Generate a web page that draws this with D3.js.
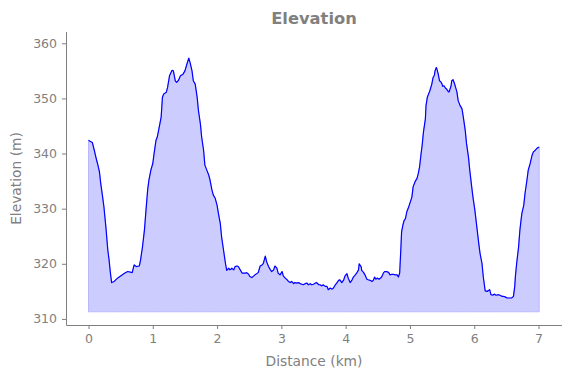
<!DOCTYPE html>
<html>
<head>
<meta charset="utf-8">
<script src="https://cdn.jsdelivr.net/npm/d3@7"></script>
<style>
  body { margin: 0; background: #fff; }
  text { font-family: "DejaVu Sans", sans-serif; }
</style>
</head>
<body>
<div id="chart"></div>
<script>
var svgWidth = 571;
var svgHeight = 378;

var margin = { top: 32, right: 9, bottom: 53, left: 66 };
var width = svgWidth - margin.left - margin.right;
var height = svgHeight - margin.top - margin.bottom;

// distance along the track (km)
var distance = [
  0.00, 0.03, 0.06, 0.09, 0.12, 0.14, 0.17, 0.19, 0.22, 0.24, 0.27, 0.30, 0.32, 0.34, 0.36,
  0.40, 0.45, 0.50, 0.56, 0.61, 0.68, 0.71, 0.74, 0.79, 0.81, 0.84, 0.87, 0.89, 0.92, 0.94,
  0.97, 1.00, 1.02, 1.05, 1.07, 1.10, 1.13, 1.15, 1.17, 1.21, 1.23, 1.26, 1.30, 1.32, 1.35,
  1.37, 1.40, 1.43, 1.47, 1.50, 1.53, 1.56, 1.58, 1.61, 1.63, 1.66, 1.69, 1.71, 1.74, 1.76,
  1.79, 1.81, 1.84, 1.87, 1.89, 1.92, 1.94, 1.97, 2.00, 2.02, 2.05, 2.07, 2.10, 2.13, 2.15,
  2.18, 2.20, 2.23, 2.26, 2.28, 2.31, 2.33, 2.36, 2.39, 2.44, 2.46, 2.49, 2.51, 2.54, 2.59,
  2.64, 2.67, 2.70, 2.72, 2.75, 2.77, 2.80, 2.83, 2.85, 2.88, 2.90, 2.93, 2.95, 2.98, 3.01,
  3.03, 3.06, 3.09, 3.11, 3.14, 3.16, 3.19, 3.21, 3.24, 3.27, 3.29, 3.32, 3.34, 3.37, 3.40,
  3.42, 3.45, 3.47, 3.50, 3.53, 3.55, 3.58, 3.60, 3.63, 3.65, 3.68, 3.71, 3.73, 3.76, 3.79,
  3.81, 3.84, 3.86, 3.89, 3.91, 3.94, 3.97, 3.99, 4.02, 4.04, 4.07, 4.10, 4.12, 4.15, 4.17,
  4.20, 4.21, 4.24, 4.25, 4.28, 4.30, 4.33, 4.35, 4.38, 4.41, 4.43, 4.45, 4.47, 4.49, 4.52,
  4.56, 4.59, 4.61, 4.64, 4.67, 4.69, 4.72, 4.74, 4.77, 4.80, 4.82, 4.84, 4.85, 4.86, 4.87,
  4.89, 4.91, 4.93, 4.95, 4.98, 5.00, 5.03, 5.05, 5.08, 5.11, 5.13, 5.15, 5.17, 5.19, 5.21,
  5.24, 5.25, 5.27, 5.30, 5.31, 5.32, 5.34, 5.36, 5.38, 5.39, 5.41, 5.42, 5.44, 5.46, 5.48,
  5.50, 5.51, 5.53, 5.55, 5.57, 5.60, 5.61, 5.64, 5.65, 5.67, 5.69, 5.71, 5.73, 5.75, 5.78,
  5.81, 5.83, 5.86, 5.88, 5.91, 5.93, 5.96, 5.98, 6.01, 6.04, 6.07, 6.09, 6.12, 6.14, 6.17,
  6.20, 6.24, 6.26, 6.29, 6.31, 6.34, 6.38, 6.40, 6.43, 6.45, 6.48, 6.51, 6.53, 6.56, 6.58,
  6.61, 6.63, 6.64, 6.66, 6.69, 6.71, 6.74, 6.77, 6.79, 6.82, 6.84, 6.87, 6.90, 6.92, 6.95,
  6.97, 7.01
];

// elevation (m)
var elevation = [
  342.4, 342.2, 342.0, 340.6, 339.1, 338.2, 336.7, 334.6, 332.1, 330.3, 326.7, 322.5, 320.7, 318.4, 316.6,
  316.8, 317.4, 317.8, 318.3, 318.6, 318.4, 319.8, 319.5, 319.6, 320.7, 323.1, 326.1, 329.1, 333.4, 335.2,
  337.0, 338.2, 340.0, 342.4, 343.0, 344.8, 346.6, 350.2, 350.8, 351.1, 352.0, 354.1, 355.1, 355.0, 353.2,
  352.9, 353.3, 354.1, 354.4, 355.0, 356.2, 357.3, 356.5, 355.0, 353.2, 352.6, 350.2, 347.8, 345.4, 343.0,
  340.6, 337.9, 337.0, 336.1, 335.2, 333.4, 332.5, 331.9, 330.6, 329.2, 327.3, 324.9, 322.5, 320.1, 318.8,
  319.2, 318.9, 319.2, 318.9, 319.5, 319.6, 319.5, 318.9, 318.3, 318.3, 318.4, 318.1, 317.7, 317.5, 318.0,
  318.4, 319.6, 319.8, 320.1, 321.4, 320.4, 319.5, 318.9, 318.6, 318.9, 319.6, 319.2, 318.3, 318.0, 318.6,
  317.8, 317.4, 317.1, 316.8, 316.6, 316.8, 316.4, 316.6, 316.5, 316.6, 316.4, 316.3, 316.2, 316.4, 316.5,
  316.2, 316.4, 316.2, 316.3, 316.5, 316.6, 316.2, 316.2, 316.0, 316.2, 315.9, 315.9, 315.3, 315.6, 315.4,
  315.6, 316.2, 316.5, 317.0, 317.1, 316.6, 317.1, 317.8, 318.2, 317.4, 316.6, 317.1, 317.6, 318.0, 318.3,
  318.9, 320.0, 319.5, 318.8, 318.4, 318.0, 317.2, 317.1, 317.0, 316.8, 317.0, 317.6, 317.2, 317.4, 317.2,
  317.6, 318.4, 318.6, 318.6, 318.4, 318.0, 318.1, 318.1, 318.0, 318.0, 317.6, 318.3, 320.7, 323.1, 325.8,
  327.0, 327.9, 328.2, 329.4, 330.3, 331.0, 332.1, 334.0, 334.9, 335.5, 336.4, 337.6, 339.7, 341.5, 343.9,
  346.3, 348.7, 350.2, 351.1, 351.4, 351.8, 352.6, 353.8, 354.2, 355.0, 355.6, 355.3, 354.4, 353.2, 353.0,
  352.6, 352.2, 352.3, 351.9, 351.7, 351.2, 351.2, 352.3, 353.2, 353.4, 352.8, 352.0, 351.2, 349.6, 348.7,
  348.1, 346.6, 344.2, 341.8, 339.4, 337.0, 334.0, 332.1, 329.7, 326.7, 323.7, 321.9, 320.1, 317.7, 315.1,
  315.0, 315.3, 314.4, 314.3, 314.5, 314.3, 314.4, 314.3, 314.1, 314.1, 314.0, 313.8, 313.8, 313.8, 313.8,
  314.1, 315.9, 317.7, 320.1, 323.1, 326.1, 329.1, 330.6, 332.8, 335.2, 337.0, 338.2, 339.7, 340.3, 340.6,
  340.9, 341.2
];

var xTicks = [0, 1, 2, 3, 4, 5, 6, 7];
var yTicks = [310, 320, 330, 340, 350, 360];

var baseline = d3.min(elevation) - 2.5;

var profile = distance.map(function(d, i) { return { km: d, m: elevation[i] }; });

var svg = d3.select("#chart")
  .append("svg")
  .attr("width", svgWidth)
  .attr("height", svgHeight);

var chartGroup = svg.append("g")
  .attr("transform", `translate(${margin.left}, ${margin.top})`);

var xScale = d3.scaleLinear()
  .domain([-0.35, 7.365])
  .range([0, width]);

var yScale = d3.scaleLinear()
  .domain([308.9, 362.05])
  .range([height, 0]);

// filled area under the profile
var area = d3.area()
  .x(d => xScale(d.km))
  .y0(yScale(baseline))
  .y1(d => yScale(d.m));

chartGroup.append("path")
  .datum(profile)
  .attr("d", area)
  .attr("fill", "#ccccff")
  .attr("stroke", "#b8b8ff")
  .attr("stroke-width", 1);

var line = d3.line()
  .x(d => xScale(d.km))
  .y(d => yScale(d.m));

chartGroup.append("path")
  .datum(profile)
  .attr("d", line)
  .attr("fill", "none")
  .attr("stroke", "#0000ff")
  .attr("stroke-width", 1.2)
  .attr("stroke-linejoin", "round");

// axes
var bottomAxis = d3.axisBottom(xScale).tickValues(xTicks).tickSize(4).tickPadding(5);
var leftAxis = d3.axisLeft(yScale).tickValues(yTicks).tickSize(4).tickPadding(5);

var xAxis = chartGroup.append("g")
  .attr("transform", `translate(0, ${height})`)
  .call(bottomAxis);

var yAxis = chartGroup.append("g")
  .call(leftAxis);

[xAxis, yAxis].forEach(function(ax) {
  ax.select(".domain").attr("stroke", "#7f7f7f").attr("stroke-width", 1);
  ax.selectAll(".tick line").attr("stroke", "#7f7f7f");
  ax.selectAll(".tick text")
    .attr("fill", "#808080")
    .style("font-size", "12.5px")
    .style("font-family", "DejaVu Sans, sans-serif");
});

// replace path so the spines are plain lines without end ticks
xAxis.select(".domain").attr("d", `M0.5,0.5H${width}`);
yAxis.select(".domain").attr("d", `M0.5,0V${height + 0.5}`);

// labels
chartGroup.append("text")
  .attr("x", width / 2)
  .attr("y", height + 41)
  .attr("text-anchor", "middle")
  .attr("fill", "#808080")
  .style("font-size", "13.8px")
  .text("Distance (km)");

chartGroup.append("text")
  .attr("transform", "rotate(-90)")
  .attr("x", -(height / 2))
  .attr("y", -45)
  .attr("text-anchor", "middle")
  .attr("fill", "#808080")
  .style("font-size", "13.8px")
  .text("Elevation (m)");

svg.append("text")
  .attr("x", margin.left + width / 2)
  .attr("y", 24)
  .attr("text-anchor", "middle")
  .attr("fill", "#808080")
  .style("font-size", "16.3px")
  .style("font-weight", "bold")
  .text("Elevation");
</script>
</body>
</html>
